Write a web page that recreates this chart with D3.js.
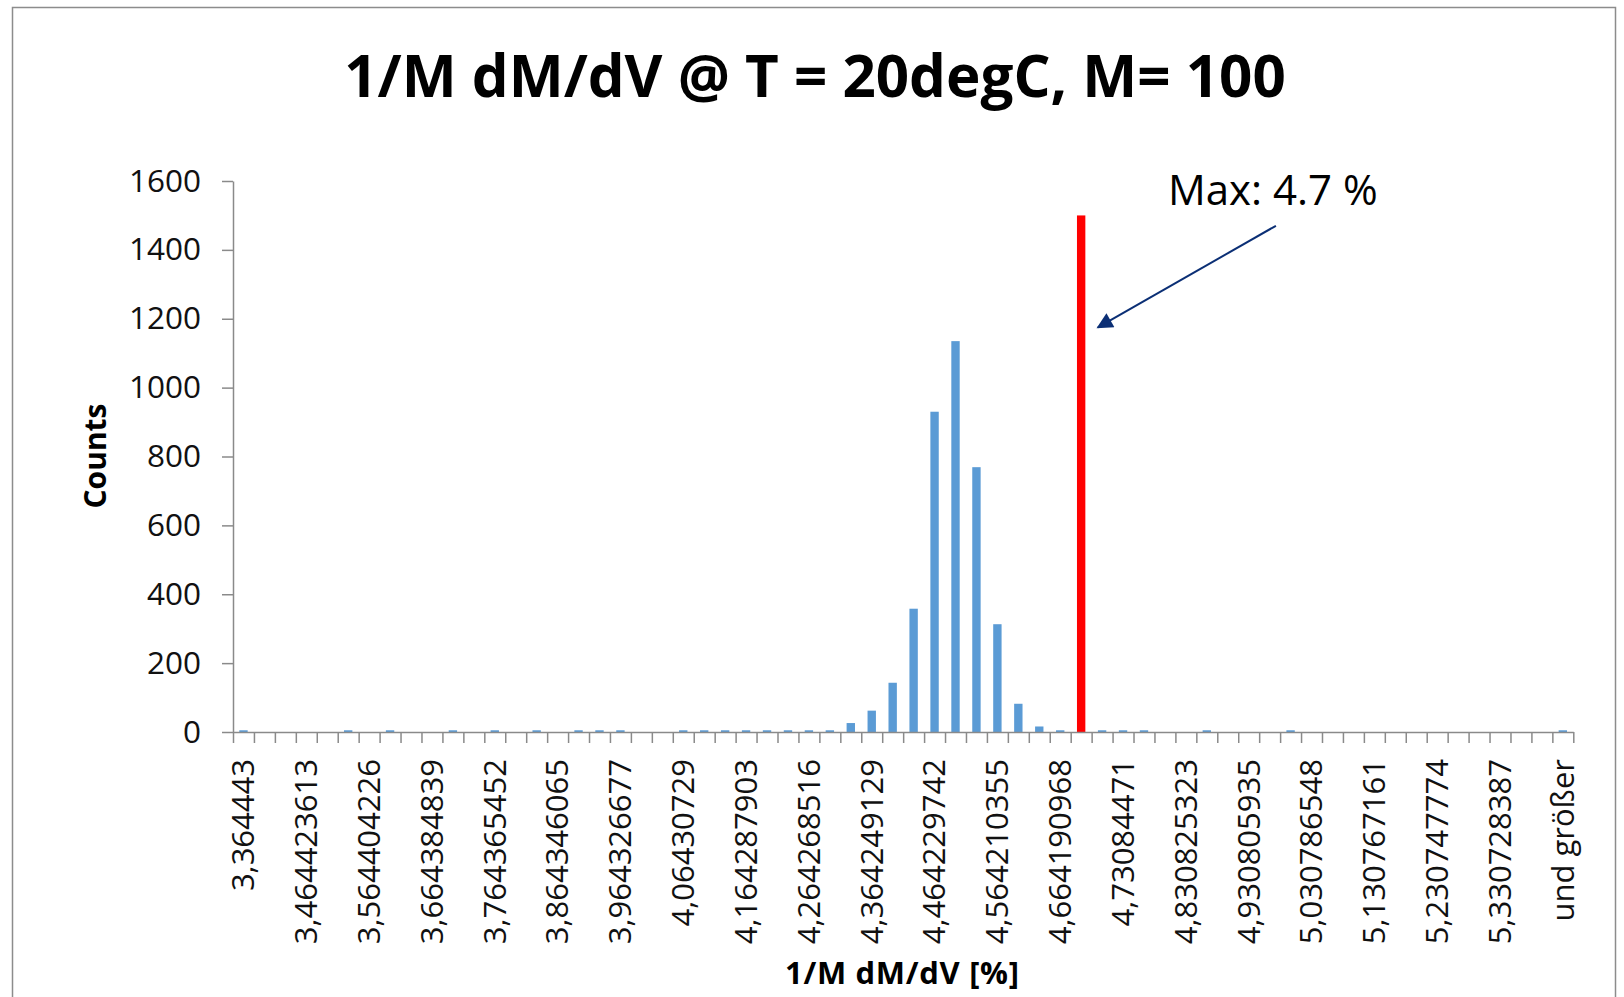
<!DOCTYPE html>
<html>
<head>
<meta charset="utf-8">
<script src="https://cdn.jsdelivr.net/npm/d3@7"></script>
<style>
  html, body { margin: 0; padding: 0; background: #fff; }
  svg { display: block; }
</style>
</head>
<body>
<svg id="chart" width="1624" height="997"></svg>
<script>
// ---------------- data ----------------
const title = "1/M dM/dV @ T = 20degC, M= 100";
const xTitle = "1/M dM/dV [%]";
const yTitle = "Counts";
// histogram counts for each of the 64 bins (bin 40 holds the "Max" marker)
const counts = [
  5, 0, 0, 0, 0, 5, 0, 5, 0, 0,
  5, 0, 5, 0, 5, 0, 5, 5, 5, 0,
  0, 5, 5, 5, 5, 5, 5, 5, 5, 26,
  62, 143, 358, 930, 1135, 769, 313, 82, 16, 5,
  0, 5, 5, 5, 0, 0, 5, 0, 0, 0,
  5, 0, 0, 0, 0, 0, 0, 0, 0, 0,
  0, 0, 0, 5
];
// red "Max" marker bar
const maxMarker = [{ bin: 40, value: 1500 }];
// category labels shown on the axis (every third bin)
const tickLabels = [
  "3,364443", "3,464423613", "3,564404226", "3,664384839", "3,764365452",
  "3,864346065", "3,964326677", "4,06430729", "4,164287903", "4,264268516",
  "4,364249129", "4,464229742", "4,564210355", "4,664190968", "4,73084471",
  "4,830825323", "4,930805935", "5,030786548", "5,130767161", "5,230747774",
  "5,330728387", "und größer"
];
const tickEvery = 3;
const yTicks = [0, 200, 400, 600, 800, 1000, 1200, 1400, 1600];
const annotationText = "Max: 4.7 %";
// arrow from (bin position, value) to (bin position, value)
const arrowFrom = [49.8, 1470];
const arrowTo = [41.3, 1175];

// ---------------- layout ----------------
const svg = d3.select("#chart");
const X0 = 233, X1 = 1573.3, Y0 = 732, Y1 = 181;
const nBins = counts.length;

const x = d3.scaleBand().domain(d3.range(nBins)).range([X0, X1])
  .paddingInner(0.6).paddingOuter(0.3);
const xPos = d3.scaleLinear().domain([0, nBins]).range([X0, X1]);
const y = d3.scaleLinear().domain([0, 1600]).range([Y0, Y1]);

const axisColor = "#8a8a8a";
const font = "'Open Sans', 'Noto Sans', sans-serif";

// chart border
svg.append("rect")
  .attr("x", 12.5).attr("y", 7.5).attr("width", 1603).attr("height", 1000)
  .attr("fill", "none").attr("stroke", "#8c8c8c").attr("stroke-width", 1.5);

// title
svg.append("text")
  .attr("x", 815).attr("y", 97)
  .attr("text-anchor", "middle")
  .attr("font-family", font).attr("font-weight", "bold").attr("font-size", 58.3)
  .attr("fill", "#000")
  .text(title);

// bars
svg.append("g").selectAll("rect.bar")
  .data(counts.map((v, i) => ({ i, v })).filter(d => d.v > 0))
  .join("rect")
  .attr("class", "bar")
  .attr("x", d => x(d.i))
  .attr("width", x.bandwidth())
  .attr("y", d => y(d.v))
  .attr("height", d => Y0 - y(d.v))
  .attr("fill", "#5b9bd5");

svg.append("g").selectAll("rect.max")
  .data(maxMarker)
  .join("rect")
  .attr("class", "max")
  .attr("x", d => x(d.bin))
  .attr("width", x.bandwidth())
  .attr("y", d => y(d.value))
  .attr("height", d => Y0 - y(d.value))
  .attr("fill", "#ff0000");

// y axis
const yAxis = svg.append("g")
  .attr("transform", `translate(${X0},0)`)
  .call(d3.axisLeft(y).tickValues(yTicks).tickFormat(d3.format("d"))
    .tickSize(11).tickSizeOuter(0).tickPadding(21));
yAxis.selectAll("path, line").attr("stroke", axisColor).attr("stroke-width", 1.5);
yAxis.selectAll("text")
  .attr("font-family", font).attr("font-size", 31.5).attr("fill", "#111");

// x axis (ticks at bin boundaries)
const xAxis = svg.append("g")
  .attr("transform", `translate(0,${Y0})`)
  .call(d3.axisBottom(xPos).tickValues(d3.range(nBins + 1)).tickSize(11).tickSizeOuter(0).tickFormat(""));
xAxis.selectAll("path, line").attr("stroke", axisColor).attr("stroke-width", 1.5);

// x tick labels (rotated)
svg.append("g").selectAll("text")
  .data(tickLabels)
  .join("text")
  .attr("transform", (d, k) => {
    const cx = x(k * tickEvery) + x.bandwidth() / 2;
    return `translate(${cx},${Y0 + 27}) rotate(-90)`;
  })
  .attr("dy", "0.35em")
  .attr("text-anchor", "end")
  .attr("font-family", font).attr("font-size", 31).attr("fill", "#111")
  .text(d => d);

// axis titles
svg.append("text")
  .attr("x", 902).attr("y", 984)
  .attr("text-anchor", "middle")
  .attr("font-family", font).attr("font-weight", "bold").attr("font-size", 31)
  .attr("textLength", 234).attr("lengthAdjust", "spacing")
  .attr("fill", "#000")
  .text(xTitle);

svg.append("text")
  .attr("transform", "translate(95,456) rotate(-90)")
  .attr("dy", "0.35em")
  .attr("text-anchor", "middle")
  .attr("font-family", font).attr("font-weight", "bold").attr("font-size", 30)
  .attr("fill", "#000")
  .text(yTitle);

// annotation
svg.append("text")
  .attr("x", 1168).attr("y", 205)
  .attr("font-family", font).attr("font-size", 42)
  .attr("fill", "#000")
  .text(annotationText);

const defs = svg.append("defs");
defs.append("marker")
  .attr("id", "arrowhead")
  .attr("viewBox", "0 0 10 10")
  .attr("refX", 9).attr("refY", 5)
  .attr("markerWidth", 9).attr("markerHeight", 8)
  .attr("markerUnits", "strokeWidth")
  .attr("orient", "auto")
  .append("path")
  .attr("d", "M0,0 L10,5 L0,10 Z")
  .attr("fill", "#0b2f75");

svg.append("line")
  .attr("x1", xPos(arrowFrom[0])).attr("y1", y(arrowFrom[1]))
  .attr("x2", xPos(arrowTo[0])).attr("y2", y(arrowTo[1]))
  .attr("stroke", "#0b2f75").attr("stroke-width", 2)
  .attr("marker-end", "url(#arrowhead)");
</script>
</body>
</html>
